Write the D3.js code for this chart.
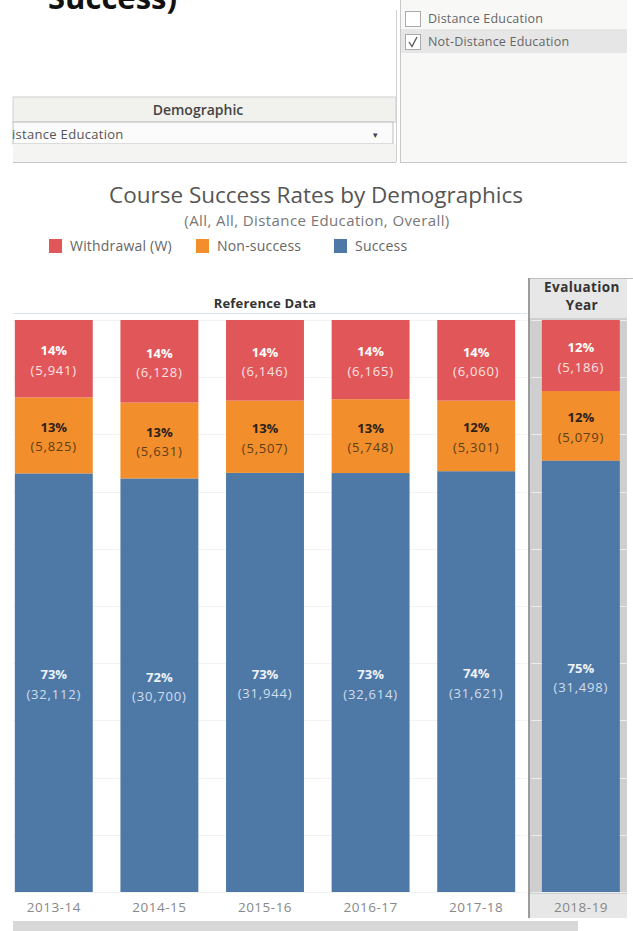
<!DOCTYPE html>
<html lang="en">
<head>
<meta charset="UTF-8" />
<title>Course Success Rates by Demographics</title>
<script src="https://d3js.org/d3.v7.min.js"></script>
<style>
  body { margin: 0; background: #fff; font-family: "Open Sans", sans-serif; }
  svg { display: block; }
  .tick line { display: none; }
</style>
</head>
<body>
<svg id="chart" width="633" height="931"></svg>
<script>
// data
const refYears = ["2013-14", "2014-15", "2015-16", "2016-17", "2017-18"];
const evalYears = ["2018-19"];
const withdrawal = [5941, 6128, 6146, 6165, 6060, 5186];
const nonSuccess = [5825, 5631, 5507, 5748, 5301, 5079];
const success    = [32112, 30700, 31944, 32614, 31621, 31498];
const seriesKeys = ["w", "n", "s"];
const seriesNames = ["Withdrawal (W)", "Non-success", "Success"];
const filterItems = ["Distance Education", "Not-Distance Education"];
const filterChecked = [false, true];

const colors = { w: "#e15759", n: "#f28e2b", s: "#4e79a7" };
const pctColor = { w: "#ffffff", n: "#2b2116", s: "#eef3f9" };
const cntColor = { w: "#fde3e3", n: "#5c3f16", s: "#d3deec" };

const years = refYears.concat(evalYears);
const rows = years.map((yr, i) => ({
  year: yr, w: withdrawal[i], n: nonSuccess[i], s: success[i],
  total: withdrawal[i] + nonSuccess[i] + success[i],
  isEval: evalYears.includes(yr)
}));

const svg = d3.select("#chart");

// ---- top chrome: cut-off heading + filter panels ----
svg.append("text").attr("x", 48).attr("y", 9)
  .attr("font-size", 31).attr("font-weight", 700).attr("fill", "#111")
  .text("Success)");

const demo = svg.append("g");
demo.append("line").attr("x1", 396.5).attr("x2", 396.5).attr("y1", 10).attr("y2", 162)
  .attr("stroke", "#d0d0d0");
demo.append("rect").attr("x", 13).attr("y", 97).attr("width", 383).attr("height", 25)
  .attr("fill", "#f1f1ed").attr("stroke", "#cfcfcf");
demo.append("text").attr("x", 198).attr("y", 115).attr("text-anchor", "middle")
  .attr("font-size", 14).attr("font-weight", 600).attr("fill", "#444").text("Demographic");
demo.append("rect").attr("x", 13).attr("y", 122).attr("width", 380).attr("height", 22)
  .attr("fill", "#fbfbfb").attr("stroke", "#bdbdbd");
demo.append("text").attr("x", 12).attr("y", 139).attr("letter-spacing", 0.3)
  .attr("font-size", 13).attr("fill", "#555").text("istance Education");
demo.append("text").attr("x", 375).attr("y", 138).attr("text-anchor", "middle")
  .attr("font-size", 9).attr("fill", "#444").text("▾");
demo.append("rect").attr("x", 13).attr("y", 144).attr("width", 383).attr("height", 18)
  .attr("fill", "#f4f4f2");
demo.append("line").attr("x1", 13).attr("x2", 396).attr("y1", 162.5).attr("y2", 162.5)
  .attr("stroke", "#c4c4c4");

const filt = svg.append("g");
filt.append("rect").attr("x", 400).attr("y", 0).attr("width", 227).attr("height", 162)
  .attr("fill", "#f8f8f6");
filt.append("line").attr("x1", 400.5).attr("x2", 400.5).attr("y1", 0).attr("y2", 162)
  .attr("stroke", "#c8c8c8");
filt.append("line").attr("x1", 400).attr("x2", 627).attr("y1", 162.5).attr("y2", 162.5)
  .attr("stroke", "#c8c8c8");
const item = filt.selectAll("g.item").data(filterItems).join("g").attr("class", "item")
  .attr("transform", (d, i) => `translate(0,${i * 23})`);
item.filter((d, i) => filterChecked[i]).append("rect")
  .attr("x", 401).attr("y", 6).attr("width", 226).attr("height", 24).attr("fill", "#e6e6e6");
item.append("rect").attr("x", 405.5).attr("y", 11.5).attr("width", 15).attr("height", 15)
  .attr("fill", "#fff").attr("stroke", "#aaa");
item.filter((d, i) => filterChecked[i]).append("path")
  .attr("d", "M409,19 L412,23.5 L417,14").attr("fill", "none").attr("stroke", "#555").attr("stroke-width", 1.3);
item.append("text").attr("x", 428).attr("y", 23).attr("letter-spacing", 0.2)
  .attr("font-size", 12.5).attr("fill", "#666").text(d => d);

// ---- title, subtitle, legend ----
svg.append("text").attr("x", 316).attr("y", 203).attr("text-anchor", "middle")
  .attr("font-size", 22.5).attr("fill", "#555").text("Course Success Rates by Demographics");
svg.append("text").attr("x", 317).attr("y", 226).attr("text-anchor", "middle")
  .attr("font-size", 15).attr("letter-spacing", 0.4).attr("fill", "#777")
  .text("(All, All, Distance Education, Overall)");

const legX = [49, 196, 334];
const leg = svg.selectAll("g.legend").data(seriesKeys).join("g").attr("class", "legend")
  .attr("transform", (d, i) => `translate(${legX[i]},239)`);
leg.append("rect").attr("width", 13).attr("height", 14).attr("fill", d => colors[d]);
leg.append("text").attr("x", 21).attr("y", 12).attr("font-size", 14).attr("letter-spacing", 0.2)
  .attr("fill", "#666").text((d, i) => seriesNames[i]);

// ---- scales ----
const y = d3.scaleLinear().domain([0, 1]).range([892, 320]);
const xRef = d3.scaleBand().domain(refYears).range([1, 529]).paddingInner(0.262).paddingOuter(0.131);
const xEval = d3.scaleBand().domain(evalYears).range([528, 634]).paddingInner(0.262).paddingOuter(0.131);
const xOf = d => d.isEval ? xEval(d.year) : xRef(d.year);
const bw = xRef.bandwidth();

// evaluation pane background
svg.append("rect").attr("x", 528).attr("y", 278).attr("width", 99).attr("height", 640)
  .attr("fill", "#e7e7e7");
svg.append("rect").attr("x", 529).attr("y", 318).attr("width", 98).attr("height", 576)
  .attr("fill", "#cfcfcf");
svg.append("line").attr("x1", 528).attr("x2", 633).attr("y1", 278.5).attr("y2", 278.5)
  .attr("stroke", "#bdbdbd");
svg.append("line").attr("x1", 529).attr("x2", 529).attr("y1", 278).attr("y2", 918)
  .attr("stroke", "#9c9c9c").attr("stroke-width", 2);

// gridlines
const ticks = y.ticks(10);
svg.append("g").selectAll("line").data(ticks).join("line")
  .attr("x1", 13).attr("x2", 527).attr("y1", d => Math.round(y(d)) + 0.5).attr("y2", d => Math.round(y(d)) + 0.5)
  .attr("stroke", "#f3f3f3");
svg.append("g").selectAll("line").data(ticks).join("line")
  .attr("x1", 531).attr("x2", 627).attr("y1", d => Math.round(y(d)) + 0.5).attr("y2", d => Math.round(y(d)) + 0.5)
  .attr("stroke", "#ececec");

// pane headers
svg.append("text").attr("x", 265).attr("y", 308).attr("text-anchor", "middle").attr("letter-spacing", 0.2)
  .attr("font-size", 13).attr("font-weight", 700).attr("fill", "#333").text("Reference Data");
svg.append("line").attr("x1", 13).attr("x2", 527).attr("y1", 313.5).attr("y2", 313.5)
  .attr("stroke", "#dde5ea");
svg.append("text").attr("x", 582).attr("y", 292).attr("text-anchor", "middle").attr("letter-spacing", 0.4)
  .attr("font-size", 13.5).attr("font-weight", 700).attr("fill", "#333").text("Evaluation");
svg.append("text").attr("x", 582).attr("y", 310).attr("text-anchor", "middle").attr("letter-spacing", 0.4)
  .attr("font-size", 13.5).attr("font-weight", 700).attr("fill", "#333").text("Year");

// ---- stacked bars ----
const stack = d3.stack().keys(["s", "n", "w"]).offset(d3.stackOffsetExpand);
const series = stack(rows);

const layer = svg.append("g").selectAll("g").data(series).join("g")
  .attr("fill", d => colors[d.key]);
layer.selectAll("rect").data(d => d).join("rect")
  .attr("x", d => xOf(d.data))
  .attr("width", bw)
  .attr("y", d => y(d[1]))
  .attr("height", d => y(d[0]) - y(d[1]));

const fmt = d3.format(",");
const lbl = svg.append("g").attr("text-anchor", "middle");
series.forEach(s => {
  s.forEach(d => {
    const cx = xOf(d.data) + bw / 2;
    const cy = (y(d[0]) + y(d[1])) / 2;
    const v = d.data[s.key];
    lbl.append("text").attr("x", cx).attr("y", cy - 3.5)
      .attr("font-size", 13).attr("font-weight", 700).attr("fill", pctColor[s.key])
      .text(Math.round(v / d.data.total * 100) + "%");
    lbl.append("text").attr("x", cx).attr("y", cy + 16)
      .attr("font-size", 13).attr("letter-spacing", 0.8).attr("fill", cntColor[s.key])
      .text("(" + fmt(v) + ")");
  });
});

// ---- x axes ----
const axRef = svg.append("g").attr("transform", "translate(0,892)")
  .call(d3.axisBottom(xRef).tickSize(0).tickPadding(10));
const axEval = svg.append("g").attr("transform", "translate(0,892)")
  .call(d3.axisBottom(xEval).tickSize(0).tickPadding(10));
[axRef, axEval].forEach(ax => {
  ax.select(".domain").remove();
  ax.selectAll("text").attr("font-family", "Open Sans, sans-serif").attr("font-size", 13.5)
    .attr("letter-spacing", 0.5).attr("fill", "#888");
});

// bottom scrollbar
svg.append("rect").attr("x", 13).attr("y", 921).attr("width", 565).attr("height", 10).attr("fill", "#d8d8d8");
</script>
</body>
</html>
